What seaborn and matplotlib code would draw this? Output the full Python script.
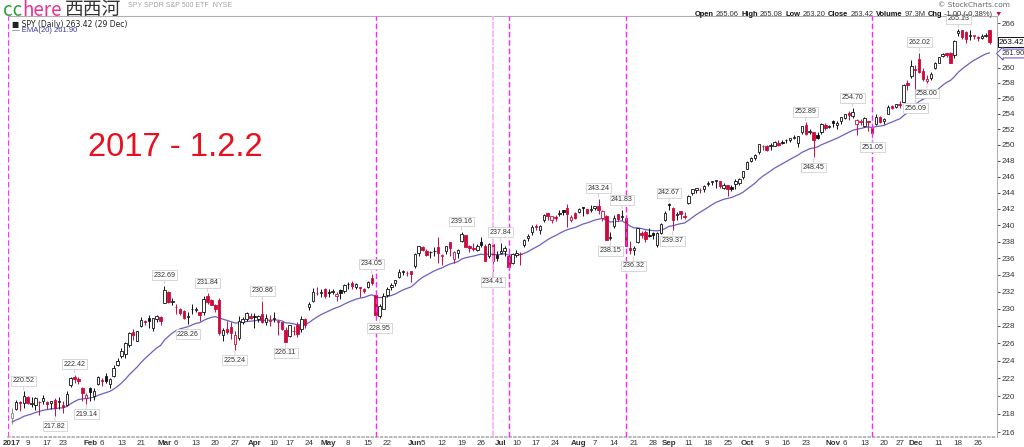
import numpy as np
import pandas as pd
import matplotlib
matplotlib.use("Agg")
import matplotlib.pyplot as plt
from matplotlib.ticker import FixedLocator, NullLocator, FixedFormatter
import seaborn as sns

# ---------------- data ----------------
holidays = ['2017-01-16', '2017-02-20', '2017-04-14', '2017-05-29', '2017-07-04',
            '2017-09-04', '2017-11-23', '2017-12-25']

opens = [
    # Jan
    217.50, 218.60, 219.30, 219.20, 219.85, 219.10, 219.00, 219.30, 219.40, 219.30, 219.20, 219.60, 219.30, 219.00, 219.00, 221.20, 222.10, 221.90, 220.90, 219.80,
    # Feb
    220.90, 220.00, 221.40, 221.70, 222.20, 221.40, 222.20, 223.50, 224.50, 224.80, 225.80, 227.30, 226.30, 228.00, 228.50, 228.90, 227.70, 228.80, 229.00,
    # Mar
    230.63, 232.00, 230.80, 230.20, 230.00, 229.70, 229.00, 230.00, 229.80, 229.60, 229.60, 231.50, 231.00, 230.40, 231.00, 226.90, 227.60, 227.90, 225.90, 226.60, 228.40, 228.80, 229.20,
    # Apr
    229.20, 228.80, 229.40, 228.50, 228.60, 228.80, 228.50, 228.40, 227.50, 226.80, 227.40, 228.10, 227.60, 228.80, 230.20, 230.90, 231.90, 231.90, 232.30,
    # May
    232.00, 232.00, 231.50, 232.20, 232.10, 232.90, 233.00, 232.60, 232.50, 232.30, 232.50, 233.60, 231.60, 229.20, 230.00, 231.60, 232.60, 233.00, 233.80, 234.30, 234.20, 234.40,
    # Jun
    235.00, 236.60, 237.30, 236.90, 236.70, 236.80, 237.30, 236.20, 236.80, 237.90, 235.90, 236.60, 238.10, 238.80, 237.50, 237.20, 237.00, 238.00, 237.50, 236.20, 237.70, 236.40,
    # Jul
    236.60, 236.90, 236.30, 235.40, 236.40, 236.50, 237.60, 238.40, 239.10, 239.80, 239.40, 240.60, 241.50, 240.60, 241.00, 241.30, 241.80, 242.10, 240.60, 241.50,
    # Aug
    241.60, 242.20, 242.00, 241.90, 242.10, 242.30, 240.90, 241.10, 238.40, 239.90, 241.30, 241.00, 240.90, 237.20, 237.00, 237.90, 239.00, 239.10, 238.80, 239.00, 237.60, 239.00, 240.60,
    # Sep
    242.55, 242.10, 241.20, 241.70, 241.10, 242.70, 244.00, 244.30, 244.30, 244.40, 245.10, 245.30, 245.50, 245.40, 244.60, 244.90, 244.70, 245.10, 245.20, 245.90,
    # Oct
    247.00, 248.00, 248.30, 249.10, 249.80, 249.90, 249.80, 249.90, 250.30, 250.40, 250.60, 250.60, 250.90, 250.20, 251.70, 252.60, 251.70, 251.60, 251.30, 251.60, 252.60, 252.30,
    # Nov
    253.00, 252.60, 253.00, 253.50, 254.10, 253.70, 252.70, 252.90, 252.40, 253.00, 252.20, 252.70, 253.60, 253.10, 254.00, 255.00, 254.90, 255.30, 255.50, 258.00, 258.90,
    # Dec
    259.90, 261.20, 259.60, 258.30, 258.60, 260.00, 260.70, 261.60, 262.00, 262.00, 261.70, 264.60, 265.00, 264.80, 264.20, 264.30, 264.10, 264.00, 264.30, 265.06,
]
highs = [
    218.69, 219.60, 219.43, 220.52, 220.00, 219.90, 219.90, 219.50, 220.10, 219.50, 219.50, 219.80, 219.90, 219.40, 220.60, 222.10, 222.42, 222.10, 221.00, 220.30,
    221.00, 220.90, 222.30, 222.00, 222.60, 222.00, 223.50, 224.30, 225.40, 226.10, 227.30, 227.60, 227.40, 229.00, 228.70, 229.30, 228.90, 229.30, 229.10,
    232.69, 232.10, 231.20, 230.50, 230.10, 229.90, 229.60, 230.60, 230.20, 229.60, 231.50, 231.84, 231.10, 230.60, 231.20, 227.80, 228.60, 228.40, 227.40, 229.20, 229.00, 229.60, 229.50,
    229.50, 229.30, 230.86, 229.40, 229.30, 229.60, 228.70, 228.50, 227.90, 228.10, 228.00, 228.40, 229.20, 228.90, 230.80, 232.40, 232.60, 232.30, 232.40,
    232.30, 232.30, 232.00, 232.30, 232.90, 233.10, 233.30, 233.00, 232.60, 232.40, 233.30, 234.05, 231.80, 230.50, 231.90, 232.50, 233.00, 233.40, 234.70, 234.60, 234.50, 234.50,
    236.60, 237.50, 237.40, 237.10, 236.90, 237.30, 238.60, 236.50, 237.50, 238.00, 236.80, 237.10, 239.16, 238.80, 237.60, 237.80, 237.70, 238.50, 237.70, 237.80, 237.80, 236.90,
    237.84, 237.40, 236.50, 236.60, 237.00, 236.70, 238.30, 238.90, 240.00, 240.10, 240.00, 241.30, 241.50, 241.10, 241.20, 241.90, 241.80, 242.60, 241.20, 241.60,
    242.10, 242.20, 242.00, 242.50, 242.40, 243.24, 241.80, 241.20, 239.10, 241.20, 241.30, 241.83, 240.90, 238.10, 237.40, 239.70, 239.30, 239.40, 239.70, 239.10, 239.20, 240.30, 241.70,
    242.67, 242.20, 241.60, 241.70, 241.60, 243.70, 244.50, 244.60, 244.60, 244.90, 245.50, 245.50, 245.60, 245.50, 245.20, 245.00, 245.00, 245.70, 245.80, 246.70,
    247.90, 248.40, 248.80, 250.10, 250.00, 250.00, 250.30, 250.50, 250.60, 250.60, 250.80, 250.90, 251.20, 251.10, 252.40, 252.89, 252.00, 251.70, 251.70, 252.80, 252.80, 252.50,
    253.20, 253.00, 253.60, 254.00, 254.30, 254.70, 253.30, 253.30, 253.60, 253.10, 252.40, 253.90, 253.70, 253.50, 255.10, 255.10, 255.30, 255.70, 257.90, 258.40, 261.10,
    260.40, 262.02, 260.00, 259.00, 259.50, 260.80, 261.50, 262.00, 262.00, 262.10, 263.70, 265.13, 265.10, 264.90, 265.00, 264.40, 264.20, 264.50, 264.60, 265.08,
]
lows = [
    216.88, 218.47, 218.36, 218.71, 219.10, 218.80, 218.40, 217.90, 219.10, 218.50, 218.60, 217.82, 218.60, 218.10, 218.90, 221.00, 221.50, 221.30, 219.50, 219.14,
    219.40, 219.60, 221.20, 221.10, 221.50, 220.90, 222.10, 223.40, 224.30, 224.30, 225.60, 226.40, 226.20, 227.90, 228.10, 227.80, 227.40, 228.50, 228.10,
    230.63, 230.70, 230.40, 229.40, 229.30, 228.80, 228.26, 229.40, 229.60, 228.60, 229.30, 230.50, 230.40, 229.60, 226.90, 226.20, 227.10, 226.50, 225.24, 226.40, 228.20, 228.60, 228.80,
    227.80, 228.50, 228.30, 228.10, 228.00, 228.50, 226.90, 227.50, 226.11, 226.70, 226.90, 226.70, 227.30, 227.70, 229.90, 230.80, 231.60, 231.40, 231.30,
    231.40, 231.70, 230.90, 231.10, 231.80, 232.30, 232.30, 232.30, 231.40, 231.80, 232.40, 232.80, 229.20, 228.95, 230.00, 231.40, 232.20, 232.70, 233.60, 234.00, 233.90, 233.20,
    234.80, 236.20, 236.80, 236.20, 236.00, 236.30, 235.40, 235.20, 236.50, 236.30, 235.40, 236.00, 238.00, 237.30, 236.70, 236.90, 236.80, 237.30, 235.60, 236.00, 234.41, 235.60,
    236.50, 236.20, 234.80, 235.30, 236.10, 235.20, 237.30, 238.10, 238.80, 239.40, 238.90, 240.40, 240.60, 240.30, 240.50, 241.10, 241.20, 239.80, 240.40, 240.70,
    241.50, 241.10, 241.30, 241.60, 241.80, 241.40, 240.50, 238.20, 238.15, 239.70, 240.50, 240.60, 237.40, 236.50, 236.32, 237.80, 238.40, 238.00, 238.50, 238.30, 237.30, 238.90, 240.50,
    241.90, 239.37, 240.60, 240.80, 240.70, 242.60, 243.70, 244.00, 244.00, 244.10, 244.80, 245.00, 244.60, 244.60, 244.50, 243.60, 244.20, 244.50, 245.00, 245.70,
    246.90, 247.80, 248.10, 248.90, 249.40, 249.20, 249.40, 249.80, 249.90, 250.10, 250.20, 250.40, 250.70, 249.70, 251.40, 251.30, 251.40, 248.45, 250.80, 251.40, 251.90, 252.10,
    252.30, 252.00, 252.70, 253.30, 253.20, 253.50, 251.30, 252.50, 252.30, 251.80, 251.05, 252.60, 252.80, 252.70, 253.90, 254.60, 254.80, 254.70, 255.40, 257.10, 258.70,
    256.09, 259.30, 258.30, 258.00, 258.40, 259.90, 260.60, 261.50, 261.50, 260.60, 261.30, 264.30, 263.80, 263.30, 263.70, 263.90, 263.60, 263.90, 264.10, 263.20,
]
closes = [
    218.10, 219.36, 219.19, 219.96, 219.18, 219.18, 219.80, 219.32, 219.73, 219.08, 219.47, 218.67, 219.41, 218.82, 220.26, 222.02, 221.86, 221.67, 220.33, 220.14,
    220.43, 220.56, 222.16, 221.69, 221.74, 221.89, 223.17, 223.97, 225.14, 226.04, 227.17, 226.98, 227.36, 228.73, 228.48, 228.58, 228.92, 229.16, 228.56,
    232.17, 230.81, 230.92, 230.17, 229.50, 228.97, 229.16, 229.91, 229.99, 229.21, 231.13, 230.76, 230.45, 229.99, 227.14, 227.56, 227.32, 227.13, 226.90, 228.55, 228.79, 229.46, 228.95,
    229.04, 229.17, 228.47, 228.91, 228.72, 228.88, 228.55, 227.69, 226.14, 228.09, 227.43, 227.04, 228.75, 228.06, 230.53, 231.93, 231.82, 231.95, 231.51,
    231.79, 232.07, 231.77, 231.90, 232.85, 232.86, 232.62, 232.88, 232.38, 232.04, 233.15, 232.99, 229.30, 230.26, 231.50, 232.34, 232.77, 233.35, 234.38, 234.45, 234.17, 234.07,
    236.50, 237.40, 237.03, 236.37, 236.74, 236.81, 236.61, 236.38, 237.45, 237.21, 236.68, 236.99, 238.97, 237.37, 237.23, 237.12, 237.49, 237.57, 235.65, 237.72, 235.68, 236.04,
    236.83, 237.17, 234.95, 236.45, 236.67, 236.49, 238.22, 238.66, 239.78, 239.77, 239.91, 241.20, 241.16, 241.07, 240.82, 241.52, 241.59, 241.35, 241.03, 240.85,
    241.94, 242.06, 241.53, 241.99, 242.39, 241.80, 241.71, 238.21, 238.52, 240.91, 240.79, 241.13, 237.41, 236.98, 237.25, 239.61, 238.78, 238.29, 238.69, 238.80, 239.00, 240.11, 241.48,
    242.45, 240.62, 241.38, 241.33, 240.97, 243.59, 244.40, 244.59, 244.32, 244.77, 245.13, 245.40, 245.56, 244.81, 244.97, 244.42, 244.44, 245.44, 245.73, 246.65,
    247.85, 248.39, 248.70, 250.10, 249.83, 249.38, 249.96, 250.41, 249.99, 250.21, 250.65, 250.82, 251.00, 251.09, 252.37, 251.37, 251.77, 250.60, 250.92, 252.70, 252.14, 252.38,
    252.75, 252.80, 253.55, 253.90, 253.85, 254.20, 253.25, 253.02, 253.50, 252.92, 251.55, 253.60, 252.93, 253.26, 254.92, 254.73, 255.26, 255.16, 257.80, 257.70, 260.20,
    259.73, 259.46, 258.49, 258.46, 259.21, 260.64, 261.48, 261.88, 261.76, 260.69, 263.57, 264.98, 264.12, 263.91, 264.43, 264.31, 264.03, 264.24, 264.42, 263.42,
]
ema_seed = 217.0   # EMA(20) value on 30 Dec 2016

annot_dates = ['2017-01-06', '2017-01-19', '2017-01-26', '2017-01-31', '2017-03-01', '2017-03-09',
               '2017-03-16', '2017-03-27', '2017-04-05', '2017-04-13', '2017-05-16', '2017-05-18',
               '2017-06-19', '2017-06-29', '2017-07-03', '2017-08-08', '2017-08-11', '2017-08-16',
               '2017-08-21', '2017-09-01', '2017-09-05', '2017-10-23', '2017-10-25', '2017-11-08',
               '2017-11-15', '2017-12-01', '2017-12-04', '2017-12-06', '2017-12-18']
annot_kind = ['H', 'L', 'H', 'L', 'H', 'L', 'H', 'L', 'H', 'L', 'H', 'L', 'H', 'L', 'H', 'H', 'L', 'H',
              'L', 'H', 'L', 'H', 'L', 'H', 'L', 'L', 'H', 'L', 'H']

tick_dates = ['2017-01-03', '2017-01-09', '2017-01-17', '2017-01-23', '2017-02-01', '2017-02-06',
              '2017-02-13', '2017-02-21', '2017-03-01', '2017-03-06', '2017-03-13', '2017-03-20',
              '2017-03-27', '2017-04-03', '2017-04-10', '2017-04-17', '2017-04-24', '2017-05-01',
              '2017-05-08', '2017-05-15', '2017-05-22', '2017-06-01', '2017-06-05', '2017-06-12',
              '2017-06-19', '2017-06-26', '2017-07-03', '2017-07-10', '2017-07-17', '2017-07-24',
              '2017-08-01', '2017-08-07', '2017-08-14', '2017-08-21', '2017-08-28', '2017-09-01',
              '2017-09-11', '2017-09-18', '2017-09-25', '2017-10-02', '2017-10-09', '2017-10-16',
              '2017-10-23', '2017-11-01', '2017-11-06', '2017-11-13', '2017-11-20', '2017-11-27',
              '2017-12-01', '2017-12-11', '2017-12-18', '2017-12-26']
tick_labels = ['2017', '9', '17', '23', 'Feb', '6', '13', '21', 'Mar', '6', '13', '20', '27', 'Apr',
               '10', '17', '24', 'May', '8', '15', '22', 'Jun', '5', '12', '19', '26', 'Jul', '10',
               '17', '24', 'Aug', '7', '14', '21', '28', 'Sep', '11', '18', '25', 'Oct', '9', '16',
               '23', 'Nov', '6', '13', '20', '27', 'Dec', '11', '18', '26']
bold_labels = ['2017', 'Feb', 'Mar', 'Apr', 'May', 'Jun', 'Jul', 'Aug', 'Sep', 'Oct', 'Nov', 'Dec']

vline_dates = ['2017-05-17', '2017-07-06', '2017-08-17', '2017-11-15']
vline_light_dates = ['2017-06-29']
price_ticks = list(range(216, 267, 2))
hidden_price_labels = [262, 264]   # covered by the value boxes on the right edge

# ---------------- figure ----------------
W, H = 1024, 447
sns.set_theme(style="white")
plt.rcParams['font.family'] = ['Liberation Sans', 'DejaVu Sans']

dates = pd.bdate_range('2017-01-03', '2017-12-29')
dates = dates[~dates.isin(pd.to_datetime(holidays))]
df = pd.DataFrame({'date': dates, 'open': opens, 'high': highs, 'low': lows, 'close': closes})
df['i'] = np.arange(len(df))
idx = {d.strftime('%Y-%m-%d'): i for i, d in enumerate(df['date'])}
ema = pd.Series([ema_seed] + closes).ewm(span=20, adjust=False).mean().values[1:]
df['ema'] = ema

fig = plt.figure(figsize=(W / 100, H / 100), dpi=100)
fig.patch.set_facecolor('white')
ax = fig.add_axes([8 / W, 1 - 437 / H, (997 - 8) / W, (437 - 16) / H])
ax.set_facecolor('white')

RED = '#cc0a3c'
prev = np.r_[df['close'].iloc[0], df['close'].values[:-1]]
edge = np.where(df['close'].values >= prev, '#111111', RED)
edge[0] = '#888888'
face = np.where(df['close'].values > df['open'].values, 'white', edge)
body_lo = np.minimum(df['open'], df['close'])
body_h = np.maximum(np.abs(df['close'] - df['open']), 0.06)

ax.vlines(df['i'], df['low'], df['high'], colors=edge, lw=0.7, zorder=3)
ax.bar(df['i'], body_h, bottom=body_lo, width=0.62, color=face, edgecolor=edge,
       linewidth=0.6, zorder=4)
sns.lineplot(data=df, x='i', y='ema', ax=ax, color='#6a5fc8', lw=0.9, zorder=2)

# vertical marker lines
ax.axvline(-0.95, color='#ff33ff', lw=1.0, ls=(0, (4, 2)), zorder=1)
for d in vline_dates:
    ax.axvline(idx[d], color='#ff22ff', lw=1.0, ls=(0, (4, 2)), zorder=5)
for d in vline_light_dates:
    ax.axvline(idx[d], color='#ffaaff', lw=1.2, ls=(0, (4, 1)), zorder=5)

ax.set_yscale('log')
ax.set_ylim(215.46, 266.95)
ax.set_xlim(-1.02, 251.9)
ax.yaxis.set_major_locator(FixedLocator(price_ticks))
ax.yaxis.set_major_formatter(FixedFormatter(
    ['' if p in hidden_price_labels else str(p) for p in price_ticks]))
ax.yaxis.set_minor_locator(NullLocator())
ax.yaxis.tick_right()
ax.tick_params(axis='y', which='major', length=2, width=0.6, pad=1.5, labelsize=5.8,
               colors='#333333', right=True, left=False)
ax.set_ylabel('')
ax.set_xlabel('')

ax.set_xticks([idx[d] for d in tick_dates])
ax.set_xticklabels(tick_labels)
ax.tick_params(axis='x', length=0, pad=2, labelsize=5.8, colors='#333333')
for t in ax.get_xticklabels():
    if t.get_text() in bold_labels:
        t.set_fontweight('bold')

for s in ['top', 'right', 'left']:
    ax.spines[s].set_color('#b0b0b0')
    ax.spines[s].set_linewidth(0.8)
ax.spines['bottom'].set_color('#b0b0b0')
ax.spines['bottom'].set_linestyle(':')
ax.spines['left'].set_visible(False)

# annotations of swing highs / lows
for d, k in zip(annot_dates, annot_kind):
    i = idx[d]
    v = highs[i] if k == 'H' else lows[i]
    off = 5 if k == 'H' else -5
    ax.annotate(f"{v:.2f}", xy=(i, v), xytext=(0, off), textcoords='offset points',
                ha='center', va='bottom' if k == 'H' else 'top', fontsize=5.1, color='#333333',
                bbox=dict(boxstyle='square,pad=0.2', fc='white', ec='#c8c8c8', lw=0.5),
                arrowprops=dict(arrowstyle='-', color='#c0c0c0', lw=0.5, shrinkA=0, shrinkB=1),
                zorder=6)

# right-edge current value boxes
ax.annotate('263.42', xy=(1.0, closes[-1]), xycoords=('axes fraction', 'data'),
            xytext=(1.5, 0), textcoords='offset points', ha='left', va='center',
            fontsize=6, color='#111111', annotation_clip=False,
            bbox=dict(boxstyle='square,pad=0.15', fc='white', ec='#111111', lw=0.7), zorder=7)
ax.annotate('261.90', xy=(1.0, 261.90), xycoords=('axes fraction', 'data'),
            xytext=(3, 0), textcoords='offset points', ha='left', va='center',
            fontsize=5.5, color='#333333', annotation_clip=False,
            bbox=dict(boxstyle='larrow,pad=0.12', fc='white', ec='#5a4fc0', lw=0.7), zorder=7)

# in-plot legend text
ax.text(4 / (997 - 8), 1 - 8.5 / 421, '■ SPY (Daily) 263.42 (29 Dec)', transform=ax.transAxes,
        fontsize=5.5, color='#222222', va='center', ha='left', family=['DejaVu Sans'])
ax.text(4 / (997 - 8), 1 - 15 / 421, '— EMA(20) 261.90', transform=ax.transAxes,
        fontsize=5.5, color='#3a3a9a', va='center', ha='left')

# big red title
fig.text(88 / W, 1 - 156 / H, '2017 - 1.2.2', fontsize=23.5, color='#e8101e',
         ha='left', va='baseline')

# header texts
fig.canvas.draw()
r = fig.canvas.get_renderer()


def seq_text(x0, ybase, parts, size, family=None):
    x = x0
    for s, weight, color, gap in parts:
        kw = {}
        if family:
            kw['family'] = family
        t = fig.text(x / W, 1 - ybase / H, s, fontsize=size, fontweight=weight, color=color,
                     ha='left', va='baseline', **kw)
        bb = t.get_window_extent(renderer=r)
        x += bb.width + gap
    return x


fig.text(128 / W, 1 - 7 / H, 'SPY SPDR S&P 500 ETF  NYSE', fontsize=5.0, color='#a0a0a0',
         ha='left', va='baseline')
fig.text(1010 / W, 1 - 7 / H, '© StockCharts.com', fontsize=5.3, color='#666666',
         ha='right', va='baseline', family=['DejaVu Sans'])
seq_text(695, 15.5, [('Open', 'bold', '#111111', 2), ('265.06', 'normal', '#333333', 2.5),
                     ('High', 'bold', '#111111', 2), ('265.08', 'normal', '#333333', 2.5),
                     ('Low', 'bold', '#111111', 2), ('263.20', 'normal', '#333333', 2.5),
                     ('Close', 'bold', '#111111', 2), ('263.42', 'normal', '#333333', 2.5),
                     ('Volume', 'bold', '#111111', 2), ('97.3M', 'normal', '#333333', 2.5),
                     ('Chg', 'bold', '#111111', 2), ('-1.00 (-0.38%)', 'normal', '#333333', 2),
                     ('▼', 'normal', RED, 0)], 5.4, family=['Liberation Sans', 'DejaVu Sans'])

cjk = ['Noto Sans CJK SC', 'DejaVu Sans']
seq_text(3, 15.5, [('cc', 'normal', '#2f9e3a', 0), ('here', 'normal', '#e8338f', 3),
                   ('西西河', 'normal', '#333333', 0)], 13.5, family=cjk)

fig.savefig('out.png', dpi=100, facecolor='white')
